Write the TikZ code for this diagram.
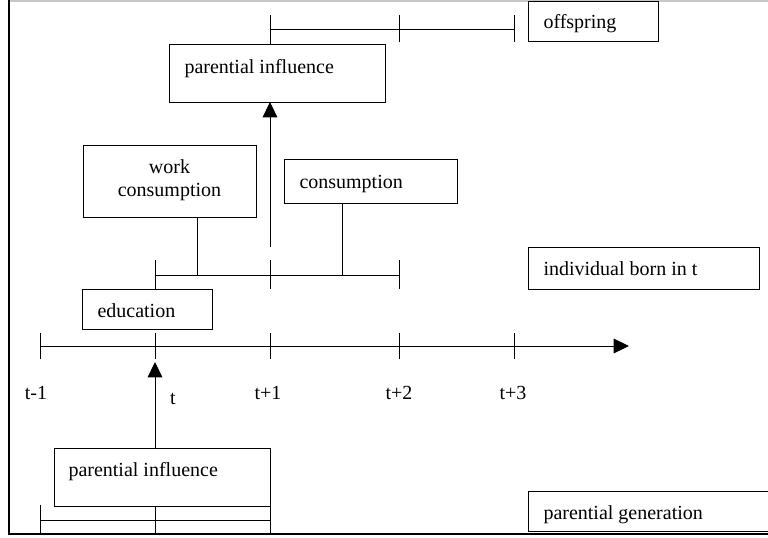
\documentclass[tikz,border=0pt]{standalone}
\usepackage{fontspec}
\setmainfont{Liberation Serif}
\usetikzlibrary{arrows.meta,fit}
\begin{document}
\begin{tikzpicture}[x=0.75pt,y=-0.75pt,line width=0.75pt,
  box/.style={draw,inner sep=0pt,outer sep=0pt,line width=0.75pt},
  lbl/.style={inner sep=0pt,anchor=base west,font=\fontsize{15}{17}\selectfont},
  tlbl/.style={inner sep=0pt,anchor=base,font=\fontsize{15}{17}\selectfont},
  arr/.style={-{Triangle[width=11pt,length=11.5pt]}}]
\useasboundingbox (0,0) rectangle (768,537);
% frame
\draw[gray!45,line width=1.5pt] (9,0.6) -- (768,0.6);
\draw[line width=1.6pt] (9,0) -- (9,534) -- (768,534);
% boxes
\node[box,fit={(169,44) (385,102)}] (pinfTop) {};
\node[box,fit={(83,145) (256,217)}] (work) {};
\node[box,fit={(284,159) (457,203)}] (cons) {};
\node[box,fit={(82,289) (212,329)}] (edu) {};
\node[box,fit={(54,448) (270,506)}] (pinfBot) {};
\node[box,fit={(528,1) (658,41)}] (offs) {};
\node[box,fit={(528,247) (759,289)}] (indiv) {};
\node[box,fit={(528,491) (775,531)}] (pgen) {};
% texts
\node[lbl] (tpinfTop) at (184,73) {parential influence};
\node[tlbl] (twork1) at (169.5,173) {work};
\node[tlbl] (twork2) at (169.5,196) {consumption};
\node[lbl] (tcons) at (299,188) {consumption};
\node[lbl] (tedu) at (97,317) {education};
\node[lbl] (tpinfBot) at (68,476) {parential influence};
\node[lbl] (toffs) at (543,28) {offspring};
\node[lbl] (tindiv) at (543,275) {individual born in t};
\node[lbl] (tpgen) at (543,519) {parential generation};
% time axis
\coordinate (T0) at (40,346);
\coordinate (T1) at (155,346);
\coordinate (T2) at (270,346);
\coordinate (T3) at (399,346);
\coordinate (T4) at (514,346);
\coordinate (Tend) at (629,346);
\draw[arr] (T0) -- (Tend);
\foreach \p in {T0,T1,T2,T3,T4} \draw ([yshift=13*0.75pt]\p) -- ([yshift=-13*0.75pt]\p);
\node[tlbl] (l0) at (36,399) {t-1};
\node[tlbl] (l1) at (173,404) {t};
\node[tlbl] (l2) at (268,399) {t+1};
\node[tlbl] (l3) at (399,399) {t+2};
\node[tlbl] (l4) at (513,399) {t+3};
% arrow from lower parental influence
\coordinate (tipA) at (155,362);
\draw[arr] (pinfBot.north -| tipA) -- (tipA);
% individual bracket
\coordinate (I1) at (155,275);
\coordinate (I2) at (270,275);
\coordinate (I3) at (399,275);
\draw (I1) -- (I3);
\draw (155,260) -- (edu.north -| I1);
\draw (270,260) -- (270,289);
\draw (399,260) -- (399,289);
\coordinate (wb) at (197,275);
\coordinate (cb) at (342,275);
\draw (work.south -| wb) -- (wb);
\draw (cons.south -| cb) -- (cb);
% arrow to upper parental influence
\coordinate (aS) at (270,247);
\draw[arr] (aS) -- (aS |- pinfTop.south);
% offspring bracket
\coordinate (O1) at (270,29);
\coordinate (O3) at (514,29);
\draw (O1) -- (O3);
\draw (270,15) -- (pinfTop.north -| O1);
\draw (399,15) -- (399,42);
\draw (514,15) -- (514,42);
% parental generation bracket
\coordinate (P1) at (40,520);
\coordinate (P3) at (270,520);
\draw (P1) -- (P3);
\draw (40,505) -- (40,534);
\draw (pinfBot.south -| 155,0) -- (155,534);
\draw (pinfBot.south east) -- (270,534);
\end{tikzpicture}
\end{document}
